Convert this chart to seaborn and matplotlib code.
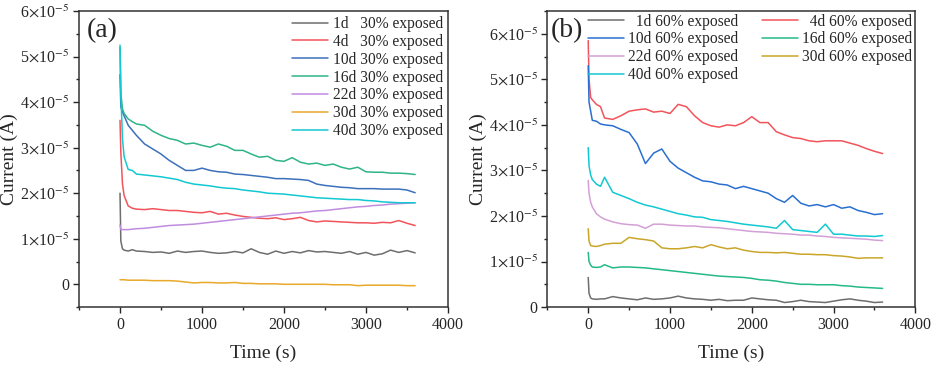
import numpy as np
import pandas as pd
import matplotlib
matplotlib.use("Agg")
import matplotlib.pyplot as plt
from matplotlib.ticker import MultipleLocator, FuncFormatter
import seaborn as sns

# time grid (s)
time_s = [0, 10, 30, 50, 100, 150, 200, 300, 400, 500, 600, 700, 800, 900, 1000,
          1100, 1200, 1300, 1400, 1500, 1600, 1700, 1800, 1900, 2000, 2100, 2200,
          2300, 2400, 2500, 2600, 2700, 2800, 2900, 3000, 3100, 3200, 3300, 3400,
          3500, 3600]

# panel (a) currents, units of 1e-5 A
a_1d = [2.00, 0.95, 0.78, 0.75, 0.73, 0.76, 0.73, 0.72, 0.70, 0.71, 0.68, 0.73, 0.70, 0.72,
        0.73, 0.70, 0.68, 0.69, 0.72, 0.69, 0.78, 0.70, 0.66, 0.73, 0.68, 0.72, 0.69, 0.74,
        0.71, 0.72, 0.70, 0.68, 0.72, 0.66, 0.70, 0.64, 0.67, 0.75, 0.70, 0.74, 0.69]
a_4d = [3.60, 2.90, 2.20, 1.95, 1.72, 1.67, 1.65, 1.64, 1.66, 1.64, 1.62, 1.62, 1.60, 1.58,
        1.57, 1.60, 1.54, 1.56, 1.52, 1.49, 1.47, 1.45, 1.44, 1.46, 1.42, 1.44, 1.47, 1.40,
        1.37, 1.39, 1.38, 1.37, 1.36, 1.35, 1.35, 1.34, 1.36, 1.35, 1.40, 1.34, 1.29]
a_10d = [4.60, 3.90, 3.78, 3.70, 3.49, 3.38, 3.27, 3.08, 2.97, 2.86, 2.72, 2.61, 2.50, 2.50,
         2.55, 2.50, 2.47, 2.46, 2.42, 2.41, 2.39, 2.37, 2.35, 2.32, 2.32, 2.31, 2.30, 2.28,
         2.20, 2.17, 2.15, 2.13, 2.12, 2.10, 2.10, 2.10, 2.09, 2.09, 2.09, 2.07, 2.01]
a_16d = [5.20, 4.20, 3.85, 3.75, 3.63, 3.57, 3.52, 3.49, 3.36, 3.27, 3.20, 3.16, 3.08, 3.10,
         3.05, 3.01, 3.08, 3.03, 2.94, 2.94, 2.86, 2.79, 2.81, 2.72, 2.70, 2.78, 2.68, 2.64,
         2.66, 2.61, 2.64, 2.57, 2.53, 2.57, 2.47, 2.46, 2.46, 2.44, 2.44, 2.43, 2.41]
a_22d = [1.30, 1.21, 1.20, 1.20, 1.20, 1.21, 1.22, 1.23, 1.25, 1.27, 1.29, 1.30, 1.31, 1.32,
         1.34, 1.36, 1.38, 1.40, 1.42, 1.44, 1.46, 1.48, 1.50, 1.52, 1.54, 1.56, 1.57, 1.59,
         1.61, 1.62, 1.64, 1.66, 1.68, 1.70, 1.71, 1.73, 1.74, 1.76, 1.77, 1.78, 1.79]
a_30d = [0.10, 0.10, 0.10, 0.10, 0.09, 0.09, 0.09, 0.09, 0.08, 0.08, 0.08, 0.07, 0.05, 0.03,
         0.04, 0.04, 0.03, 0.03, 0.04, 0.02, 0.02, 0.01, 0.01, 0.01, 0.00, 0.00, 0.00, 0.00,
         0.00, 0.00, -0.01, -0.01, -0.01, -0.03, -0.02, -0.02, -0.02, -0.02, -0.02, -0.03, -0.03]
a_40d = [5.25, 4.20, 3.20, 2.80, 2.52, 2.50, 2.42, 2.40, 2.38, 2.36, 2.33, 2.30, 2.24, 2.20,
         2.18, 2.16, 2.13, 2.11, 2.10, 2.07, 2.05, 2.03, 2.00, 1.99, 1.98, 1.96, 1.94, 1.92,
         1.90, 1.89, 1.88, 1.87, 1.86, 1.86, 1.84, 1.83, 1.81, 1.80, 1.79, 1.79, 1.79]

# panel (b) currents, units of 1e-5 A
b_1d = [0.65, 0.30, 0.20, 0.18, 0.17, 0.18, 0.18, 0.23, 0.20, 0.18, 0.16, 0.20, 0.17, 0.18,
        0.20, 0.24, 0.20, 0.18, 0.17, 0.15, 0.17, 0.14, 0.15, 0.15, 0.20, 0.18, 0.16, 0.15,
        0.10, 0.12, 0.15, 0.12, 0.11, 0.10, 0.13, 0.16, 0.18, 0.15, 0.13, 0.10, 0.11]
b_4d = [5.85, 5.00, 4.60, 4.55, 4.45, 4.40, 4.15, 4.12, 4.20, 4.30, 4.33, 4.35, 4.28, 4.30,
        4.25, 4.45, 4.40, 4.20, 4.05, 3.98, 3.95, 4.00, 3.98, 4.05, 4.18, 4.05, 4.05, 3.85,
        3.78, 3.72, 3.70, 3.65, 3.63, 3.65, 3.65, 3.65, 3.60, 3.55, 3.48, 3.42, 3.37]
b_10d = [5.30, 4.50, 4.30, 4.10, 4.08, 4.02, 4.00, 3.98, 3.90, 3.83, 3.58, 3.15, 3.38, 3.47,
         3.20, 3.05, 2.95, 2.85, 2.77, 2.75, 2.70, 2.68, 2.60, 2.65, 2.60, 2.55, 2.50, 2.38,
         2.30, 2.45, 2.28, 2.22, 2.25, 2.20, 2.25, 2.17, 2.20, 2.12, 2.08, 2.03, 2.05]
b_16d = [1.20, 1.00, 0.92, 0.88, 0.87, 0.88, 0.93, 0.86, 0.88, 0.88, 0.87, 0.86, 0.84, 0.82,
         0.80, 0.78, 0.76, 0.74, 0.72, 0.70, 0.68, 0.67, 0.66, 0.65, 0.63, 0.60, 0.59, 0.57,
         0.54, 0.52, 0.50, 0.50, 0.49, 0.49, 0.49, 0.47, 0.46, 0.44, 0.43, 0.42, 0.41]
b_22d = [2.78, 2.50, 2.30, 2.20, 2.05, 1.98, 1.93, 1.87, 1.83, 1.81, 1.80, 1.73, 1.82, 1.82,
         1.80, 1.79, 1.78, 1.78, 1.76, 1.75, 1.74, 1.72, 1.70, 1.68, 1.66, 1.65, 1.64, 1.62,
         1.61, 1.60, 1.58, 1.58, 1.56, 1.55, 1.53, 1.52, 1.51, 1.50, 1.49, 1.47, 1.46]
b_30d = [1.72, 1.45, 1.35, 1.34, 1.33, 1.35, 1.38, 1.40, 1.40, 1.53, 1.50, 1.48, 1.45, 1.30,
         1.28, 1.28, 1.30, 1.33, 1.30, 1.37, 1.32, 1.28, 1.30, 1.25, 1.22, 1.20, 1.20, 1.19,
         1.20, 1.18, 1.16, 1.16, 1.15, 1.15, 1.13, 1.12, 1.10, 1.07, 1.08, 1.08, 1.08]
b_40d = [3.50, 3.10, 2.90, 2.80, 2.70, 2.65, 2.85, 2.52, 2.45, 2.38, 2.30, 2.24, 2.20, 2.15,
         2.10, 2.05, 2.02, 1.98, 1.97, 1.92, 1.90, 1.88, 1.85, 1.82, 1.80, 1.78, 1.76, 1.73,
         1.90, 1.70, 1.68, 1.66, 1.64, 1.82, 1.60, 1.60, 1.58, 1.56, 1.56, 1.55, 1.57]

labels_a = ["1d   30% exposed", "4d   30% exposed", "10d 30% exposed", "16d 30% exposed",
            "22d 30% exposed", "30d 30% exposed", "40d 30% exposed"]
labels_b = ["  1d 60% exposed", "  4d 60% exposed", "10d 60% exposed", "16d 60% exposed",
            "22d 60% exposed", "30d 60% exposed", "40d 60% exposed"]
colors_a = ["#6e6e6e", "#f2545b", "#3d70bb", "#2fb487", "#c08ce0", "#e9a92a", "#12c8d2"]
colors_b = ["#6e6e6e", "#f2545b", "#2a6fd0", "#25b98a", "#d3a0d6", "#c9a62a", "#12c8d2"]


def to_long(series, labels):
    rows = []
    for vals, lab in zip(series, labels):
        for t, v in zip(time_s, vals):
            rows.append({"Time": t, "Current": v * 1e-5, "Series": lab})
    return pd.DataFrame(rows)


df_a = to_long([a_1d, a_4d, a_10d, a_16d, a_22d, a_30d, a_40d], labels_a)
df_b = to_long([b_1d, b_4d, b_10d, b_16d, b_22d, b_30d, b_40d], labels_b)

sns.set_style("ticks")
plt.rcParams['font.family'] = ['Liberation Serif', 'DejaVu Serif']
plt.rcParams['mathtext.fontset'] = 'stix'

fig = plt.figure(figsize=(9.34, 3.66), dpi=100)
ax_a = fig.add_axes([0.0846, 0.161, 0.395, 0.809])
ax_b = fig.add_axes([0.586, 0.161, 0.394, 0.809])


def sci(v, pos):
    k = int(round(v / 1e-5))
    if k == 0:
        return "0"
    return r"%d$\times$10$^{-5}$" % k


for ax, df, labels, colors, ylim, tag, tag_x in [
        (ax_a, df_a, labels_a, colors_a, (-0.5e-5, 6e-5), "(a)", 0.02),
        (ax_b, df_b, labels_b, colors_b, (0, 6.5e-5), "(b)", 0.008)]:
    sns.lineplot(data=df, x="Time", y="Current", hue="Series", hue_order=labels,
                 palette=colors, linewidth=1.1, ax=ax, legend=True)
    ax.set_xlim(-500, 4000)
    ax.set_ylim(*ylim)
    ax.xaxis.set_major_locator(MultipleLocator(1000))
    ax.xaxis.set_minor_locator(MultipleLocator(500))
    ax.yaxis.set_major_locator(MultipleLocator(1e-5))
    ax.yaxis.set_minor_locator(MultipleLocator(0.5e-5))
    ax.yaxis.set_major_formatter(FuncFormatter(sci))
    ax.tick_params(which="major", direction="out", length=4, width=1, labelsize=11.5,
                   pad=3, top=False, right=False)
    ax.tick_params(which="minor", direction="out", length=2.5, width=1,
                   top=False, right=False)
    for sp in ax.spines.values():
        sp.set_linewidth(1.1)
        sp.set_color("#333333")
    ax.set_xlabel("Time (s)", fontsize=14)
    ax.set_ylabel("Current (A)", fontsize=14)
    ax.xaxis.set_label_coords(0.5, -0.128)
    ax.yaxis.set_label_coords(-0.165, 0.5)
    ax.text(tag_x, 0.975, tag, transform=ax.transAxes, fontsize=20,
            ha="left", va="top")

# legend (a): single column
h, l = ax_a.get_legend_handles_labels()
ax_a.legend(h, l, loc="upper right", frameon=False, fontsize=11.2, handlelength=2.3,
            handletextpad=0.3, labelspacing=0.12, borderpad=0.3, borderaxespad=0.02)

# legend (b): two columns, filled row by row
h, l = ax_b.get_legend_handles_labels()
order = [0, 2, 4, 6, 1, 3, 5]
ax_b.legend([h[i] for i in order], [l[i] for i in order], loc="upper right",
            ncol=2, frameon=False, fontsize=11.2, handlelength=2.3, handletextpad=0.3,
            labelspacing=0.12, columnspacing=1.5, borderpad=0.15, borderaxespad=0.02)

fig.savefig("out.png", dpi=100)
